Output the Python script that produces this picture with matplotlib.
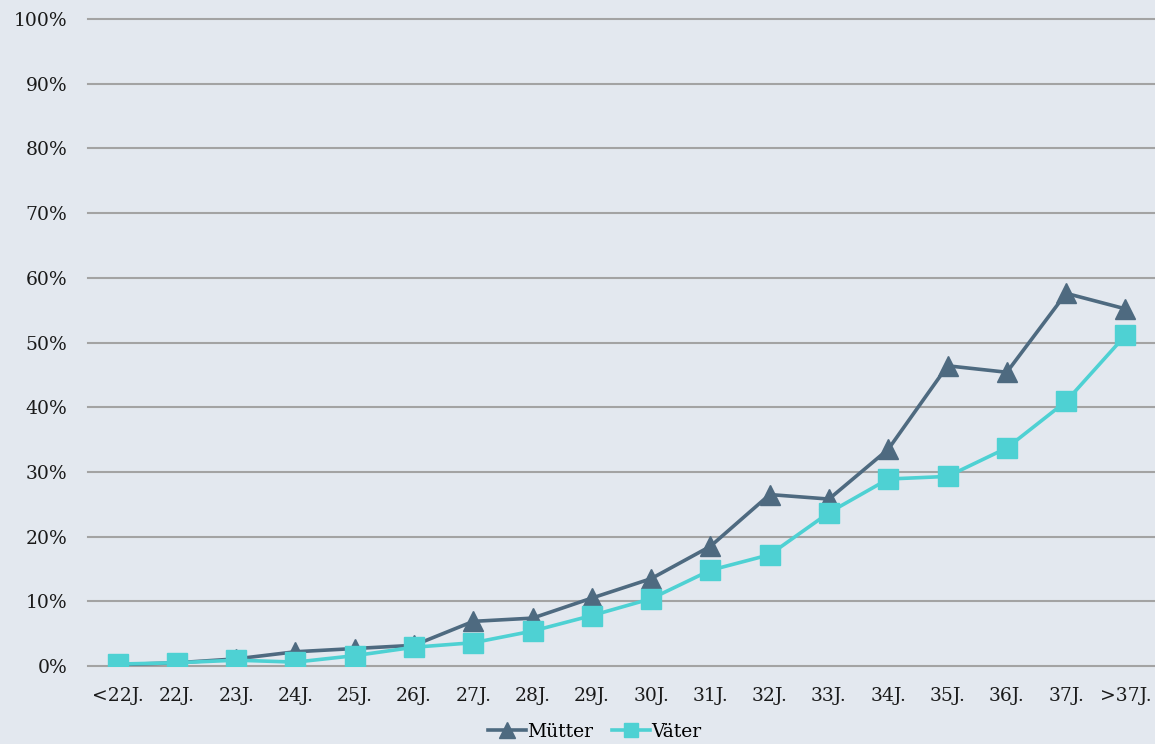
import matplotlib.pyplot as plt
from matplotlib.ticker import PercentFormatter

# Age groups on the x axis
AGES = ["<22J.", "22J.", "23J.", "24J.", "25J.", "26J.", "27J.", "28J.", "29J.",
        "30J.", "31J.", "32J.", "33J.", "34J.", "35J.", "36J.", "37J.", ">37J."]

# Share per age group, in percent
MUETTER = [0.2, 0.5, 1.1, 2.2, 2.7, 3.2, 6.9, 7.4, 10.5, 13.5, 18.5, 26.5,
           25.8, 33.5, 46.4, 45.4, 57.6, 55.2]
VAETER = [0.3, 0.5, 0.9, 0.6, 1.6, 2.9, 3.6, 5.4, 7.8, 10.4, 14.8, 17.2,
          23.7, 28.9, 29.3, 33.7, 40.9, 51.1]

BG = "#E3E8EF"

plt.rcParams["font.family"] = ["DejaVu Serif"]

fig = plt.figure(figsize=(11.55, 7.44), dpi=100, facecolor=BG)
ax = fig.add_axes([88 / 1155, 1 - 666 / 744, 1067 / 1155, 647 / 744], facecolor=BG)

x = range(len(AGES))
ax.plot(x, MUETTER, color="#4E6A80", lw=2.6, marker="^", ms=15,
        label="Mütter", zorder=3)
ax.plot(x, VAETER, color="#4ED1D3", lw=2.6, marker="s", ms=14,
        label="Väter", zorder=4)

ax.set_xlim(-0.5, len(AGES) - 0.5)
ax.set_ylim(0, 100)
ax.set_yticks(range(0, 101, 10))
ax.yaxis.set_major_formatter(PercentFormatter(decimals=0))
ax.set_xticks(list(x))
ax.set_xticklabels(AGES)
ax.tick_params(length=0, labelsize=13.5, colors="#1a1a1a")
ax.tick_params(axis="x", pad=15)
ax.tick_params(axis="y", pad=15)

# horizontal gridlines, drawn unclipped so the 0% and 100% lines keep full width
for v in range(0, 101, 10):
    ax.axhline(v, color="#A3A3A3", lw=1.5, zorder=1, clip_on=False)
for s in ax.spines.values():
    s.set_visible(False)

ax.legend(loc="center", bbox_to_anchor=(0.475, -0.102), ncol=2,
          frameon=False, fontsize=13.5, handlelength=2.0, handletextpad=0.1,
          columnspacing=1.0, markerscale=0.75, borderpad=0.2)

fig.savefig("out.png", dpi=100, facecolor=BG)
